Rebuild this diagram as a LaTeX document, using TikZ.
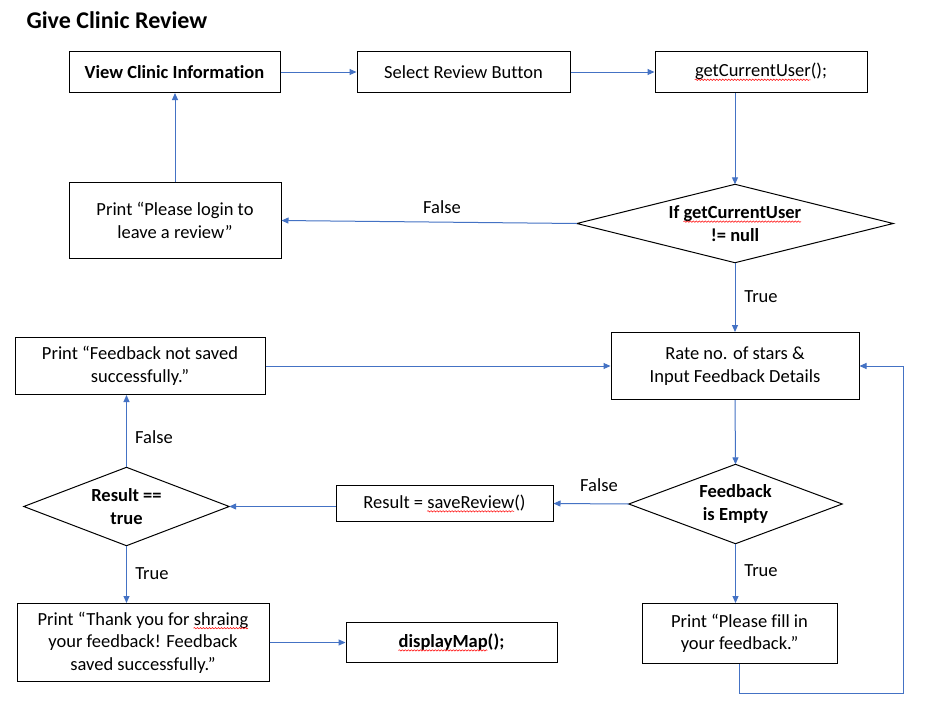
\documentclass[tikz,border=0pt]{standalone}
\usepackage{fontspec}
\setmainfont{Carlito}[Ligatures={NoCommon}]
\usetikzlibrary{arrows.meta,decorations.pathmorphing}
\definecolor{lineblue}{HTML}{4472C4}
\newsavebox\sqbox
\newcommand\squig[1]{\sbox\sqbox{#1}\usebox\sqbox\llap{\tikz[baseline=0pt,x=1pt,y=1pt]{\draw[red,line width=0.5pt,decorate,decoration={snake,amplitude=0.7pt,segment length=3pt}] (0,-3)--(\wd\sqbox,-3);}}}
\begin{document}
\begin{tikzpicture}[x=1pt,y=-1pt,
  every node/.style={font=\fontsize{18.5}{22.5}\selectfont},
  box/.style={draw=black,line width=1pt,inner sep=0pt,align=center,fill=white},
  dia/.style={inner sep=0pt,align=center},
  conn/.style={draw=lineblue,line width=1pt,-{Triangle[length=7pt,width=6pt]}},
  lbl/.style={inner sep=1pt}
]
\useasboundingbox (0,0) rectangle (926,704);
\fill[white] (0,0) rectangle (926,704);

\node[anchor=west,font=\fontsize{24}{28}\selectfont\bfseries] (title) at (23,20) {Give Clinic Review};

\node[box,minimum width=211,minimum height=41] (view) at (174.5,72) {\textbf{View Clinic Information}};
\node[box,minimum width=213,minimum height=41] (select) at (463.5,72) {Select Review Button};
\node[box,minimum width=212,minimum height=41] (getuser) at (761,72) {\squig{getCurrentUser}();};

\node[dia,minimum width=316,minimum height=78] (d1) at (735,223.5) {\textbf{If \squig{getCurrentUser}}\\\textbf{!= null}};
\draw[line width=1pt] (d1.west)--(d1.north)--(d1.east)--(d1.south)--cycle;

\node[box,minimum width=212,minimum height=76] (login) at (175,220.5) {Print “Please login to\\leave a review”};
\node[box,minimum width=248,minimum height=67] (rate) at (735,366) {Rate no. of stars \&\\Input Feedback Details};
\node[box,minimum width=250,minimum height=57] (notsaved) at (140,366) {Print “Feedback not saved\\successfully.”};

\node[dia,minimum width=213,minimum height=79] (d2) at (735.5,504) {\textbf{Feedback}\\\textbf{is Empty}};
\draw[line width=1pt] (d2.west)--(d2.north)--(d2.east)--(d2.south)--cycle;

\node[box,minimum width=217,minimum height=36] (save) at (444.5,503.5) {Result = \squig{saveReview}()};

\node[dia,minimum width=205,minimum height=78] (d3) at (126.5,506.5) {\textbf{Result ==}\\\textbf{true}};
\draw[line width=1pt] (d3.west)--(d3.north)--(d3.east)--(d3.south)--cycle;

\node[box,minimum width=252,minimum height=78] (thanks) at (143,642.5) {Print “Thank you for \squig{shraing}\\your feedback! Feedback\\saved successfully.”};
\node[box,minimum width=211,minimum height=40] (map) at (451.5,642.5) {\textbf{\squig{displayMap}();}};
\node[box,minimum width=195,minimum height=60] (fill) at (739.5,633.5) {Print “Please fill in\\your feedback.”};

\draw[conn] (view.east) -- (select.west);
\draw[conn] (select.east) -- (getuser.west);
\draw[conn] (d1.north |- getuser.south) -- (d1.north);
\draw[conn] (d1.west) -- (login.east);
\draw[conn] (login.north) -- (view.south -| login.north);
\draw[conn] (d1.south) -- (rate.north);
\draw[conn] (notsaved.east) -- (rate.west);
\draw[conn] (rate.south) -- (d2.north);
\draw[conn] (d2.west) -- (save.east);
\draw[conn] (save.west |- d3.east) -- (d3.east);
\draw[conn] (d3.north) -- (d3.north |- notsaved.south);
\draw[conn] (d3.south) -- (d3.south |- thanks.north);
\draw[conn] (thanks.east) -- (map.west);
\draw[conn] (d2.south) -- (d2.south |- fill.north);
\coordinate (lp) at (903,693);
\draw[conn] (fill.south) |- (lp) |- (rate.east);

\node[lbl] (f1) at (442,207.5) {False};
\node[lbl] (t1) at (761,296.5) {True};
\node[lbl] (f2) at (599,485.5) {False};
\node[lbl] (f3) at (154,437.5) {False};
\node[lbl] (t2) at (152,573.5) {True};
\node[lbl] (t3) at (761,570.5) {True};
\end{tikzpicture}
\end{document}
